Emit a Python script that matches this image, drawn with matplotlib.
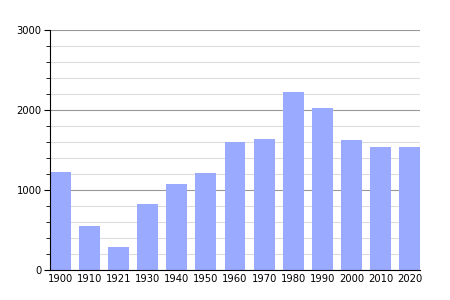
import matplotlib
matplotlib.use("Agg")
import matplotlib.pyplot as plt
from matplotlib.ticker import MultipleLocator

years = ["1900", "1910", "1921", "1930", "1940", "1950", "1960", "1970", "1980", "1990", "2000", "2010", "2020"]
population = [1225, 550, 287, 830, 1075, 1212, 1600, 1638, 2229, 2025, 1625, 1537, 1537]

fig = plt.figure(figsize=(4.5, 3), dpi=100)
ax = fig.add_axes([50/450, 30/300, 370/450, 240/300])
w = 0.72
x = list(range(len(years)))
ax.bar(x, population, width=w, color="#99aaff", zorder=2)
ax.set_xlim(-w/2, len(years) - 1 + w/2)
ax.set_ylim(0, 3000)
ax.yaxis.set_major_locator(MultipleLocator(1000))
ax.yaxis.set_minor_locator(MultipleLocator(200))
ax.grid(which="major", axis="y", color="#999999", linewidth=0.8, zorder=1)
ax.grid(which="minor", axis="y", color="#dddddd", linewidth=0.8, zorder=1)
ax.set_xticks(x)
ax.set_xticklabels(years)
ax.tick_params(axis="x", length=0, labelsize=7.2, pad=3)
ax.tick_params(axis="y", which="major", length=4, labelsize=7.2, pad=2)
ax.tick_params(axis="y", which="minor", length=3)
for s in ["top", "right"]:
    ax.spines[s].set_visible(False)
ax.spines["left"].set_color("black")
ax.spines["bottom"].set_color("black")
fig.savefig("out.png", dpi=100)
